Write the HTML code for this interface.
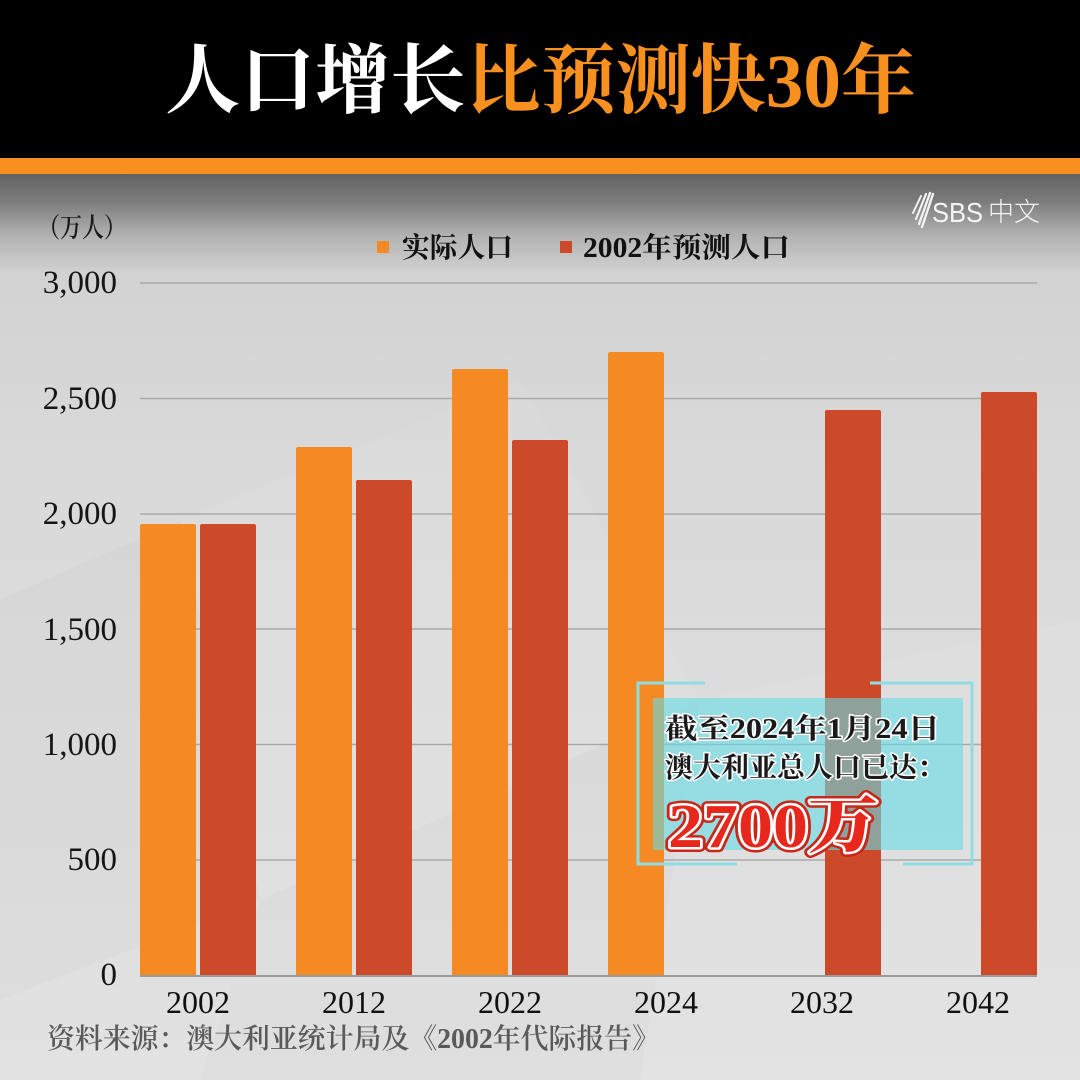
<!DOCTYPE html>
<html>
<head>
<meta charset="utf-8">
<style>
html,body{margin:0;padding:0;background:#000;}
svg{display:block;}
</style>
</head>
<body>
<svg width="1080" height="1080" viewBox="0 0 1080 1080" xmlns="http://www.w3.org/2000/svg">
  <defs>
    <linearGradient id="bg" x1="0" y1="174" x2="0" y2="1080" gradientUnits="userSpaceOnUse">
      <stop offset="0" stop-color="#626262"/>
      <stop offset="0.03" stop-color="#7c7c7c"/>
      <stop offset="0.07" stop-color="#b4b4b4"/>
      <stop offset="0.11" stop-color="#d2d2d2"/>
      <stop offset="0.3" stop-color="#d9d9d9"/>
      <stop offset="0.7" stop-color="#dedede"/>
      <stop offset="1" stop-color="#e2e2e2"/>
    </linearGradient>
  </defs>

  <!-- header -->
  <rect x="0" y="0" width="1080" height="158" fill="#000"/>
  <rect x="0" y="158" width="1080" height="16" fill="#f7901e"/>
  <text x="165" y="107" font-family="'Liberation Serif','Noto Serif CJK SC',serif" font-size="76" font-weight="700" textLength="751" lengthAdjust="spacingAndGlyphs"><tspan fill="#ffffff">人口增长</tspan><tspan fill="#f7901e">比预测快30年</tspan></text>

  <!-- body background -->
  <rect x="0" y="174" width="1080" height="906" fill="url(#bg)"/>
  <g>
    <polygon points="180,520 520,380 700,700 260,900" fill="#ffffff" opacity="0.06"/>
    <polygon points="0,600 180,520 260,900 0,1000" fill="#000000" opacity="0.015"/>
    <polygon points="700,700 1080,620 1080,1080 640,1080" fill="#ffffff" opacity="0.06"/>
    <polygon points="260,900 700,700 640,1080 200,1080" fill="#000000" opacity="0.012"/>
  </g>

  <!-- SBS logo -->
  <g stroke="#f2f2f2" stroke-linecap="round" fill="none">
    <line x1="913" y1="213" x2="921" y2="196" stroke-width="2"/>
    <line x1="916" y1="219" x2="926" y2="194" stroke-width="2.2"/>
    <line x1="919" y1="224" x2="930" y2="193" stroke-width="2.4"/>
    <line x1="922" y1="227" x2="933" y2="194" stroke-width="2.4"/>
  </g>
  <text x="932" y="222" font-family="'Liberation Sans',sans-serif" font-size="28" fill="#f4f4f4" textLength="51" lengthAdjust="spacingAndGlyphs">SBS</text>
  <text x="988" y="221" font-family="'Liberation Sans','Noto Sans CJK SC',sans-serif" font-size="26" font-weight="300" fill="#f4f4f4" textLength="52" lengthAdjust="spacingAndGlyphs">中文</text>

  <!-- unit label -->
  <text x="38" y="237" font-family="'Liberation Serif','Noto Serif CJK SC',serif" font-size="27" font-weight="600" fill="#1a1a1a" textLength="88" lengthAdjust="spacingAndGlyphs">（万人）</text>

  <!-- legend -->
  <rect x="377" y="241" width="12" height="12" fill="#f58a24"/>
  <text x="402" y="257" font-family="'Liberation Serif','Noto Serif CJK SC',serif" font-size="28" font-weight="700" fill="#111" textLength="111" lengthAdjust="spacingAndGlyphs">实际人口</text>
  <rect x="560" y="241" width="12" height="12" fill="#cc4a29"/>
  <text x="583" y="257" font-family="'Liberation Serif','Noto Serif CJK SC',serif" font-size="28" font-weight="700" fill="#111" textLength="207" lengthAdjust="spacingAndGlyphs">2002年预测人口</text>

  <!-- gridlines -->
  <g stroke="#a9a9a9" stroke-width="1.5">
    <line x1="140" y1="283" x2="1037" y2="283"/>
    <line x1="140" y1="398.5" x2="1037" y2="398.5"/>
    <line x1="140" y1="514" x2="1037" y2="514"/>
    <line x1="140" y1="629" x2="1037" y2="629"/>
    <line x1="140" y1="744.5" x2="1037" y2="744.5"/>
    <line x1="140" y1="860" x2="1037" y2="860"/>
  </g>

  <!-- y labels -->
  <g font-family="'Liberation Serif',serif" font-size="33" fill="#151515" text-anchor="end">
    <text x="117" y="293">3,000</text>
    <text x="117" y="409">2,500</text>
    <text x="117" y="524">2,000</text>
    <text x="117" y="640">1,500</text>
    <text x="117" y="755">1,000</text>
    <text x="117" y="870">500</text>
    <text x="117" y="985">0</text>
  </g>

  <!-- bars -->
  <g fill="#f58a24">
    <rect x="140" y="524" width="56" height="453" rx="2"/>
    <rect x="296" y="447" width="56" height="530" rx="2"/>
    <rect x="452" y="369" width="56" height="608" rx="2"/>
    <rect x="608" y="352" width="56" height="625" rx="2"/>
  </g>
  <g fill="#cc4a29">
    <rect x="200" y="524" width="56" height="453" rx="2"/>
    <rect x="356" y="480" width="56" height="497" rx="2"/>
    <rect x="512" y="440" width="56" height="537" rx="2"/>
    <rect x="825" y="410" width="56" height="567" rx="2"/>
    <rect x="981" y="392" width="56" height="585" rx="2"/>
  </g>

  <!-- axis -->
  <line x1="140" y1="976" x2="1037" y2="976" stroke="#9a9a9a" stroke-width="2"/>

  <!-- x labels -->
  <g font-family="'Liberation Serif',serif" font-size="32" fill="#111" text-anchor="middle">
    <text x="198" y="1013">2002</text>
    <text x="354" y="1013">2012</text>
    <text x="510" y="1013">2022</text>
    <text x="666" y="1013">2024</text>
    <text x="822" y="1013">2032</text>
    <text x="978" y="1013">2042</text>
  </g>

  <!-- source -->
  <text x="47" y="1048" font-family="'Liberation Serif','Noto Serif CJK SC',serif" font-size="28" font-weight="600" fill="#5a5a5a" textLength="613" lengthAdjust="spacingAndGlyphs">资料来源：澳大利亚统计局及《2002年代际报告》</text>

  <!-- annotation box -->
  <rect x="653" y="698" width="310" height="152" fill="#64dce6" opacity="0.6"/>
  <g stroke="#8edde3" stroke-width="3" fill="none">
    <polyline points="705,683 638,683 638,864 737,864"/>
    <polyline points="870,683 972,683 972,864 903,864"/>
  </g>
  <g font-family="'Liberation Serif','Noto Serif CJK SC',serif" font-weight="700" fill="#1a1a1a" stroke="#ffffff" stroke-width="3" paint-order="stroke" stroke-linejoin="round">
    <text x="665" y="738" font-size="28" textLength="275" lengthAdjust="spacingAndGlyphs">截至2024年1月24日</text>
    <text x="665" y="777" font-size="28" textLength="280" lengthAdjust="spacingAndGlyphs">澳大利亚总人口已达：</text>
  </g>
  <g font-family="'Liberation Serif','Noto Serif CJK SC',serif" font-weight="900" font-size="62" stroke-linejoin="round">
    <text x="668" y="847" textLength="210" lengthAdjust="spacingAndGlyphs" fill="#b82012" stroke="#c8281a" stroke-width="10">2700万</text>
    <text x="668" y="847" textLength="210" lengthAdjust="spacingAndGlyphs" fill="#e8281c" stroke="#ffffff" stroke-width="5" paint-order="stroke">2700万</text>
  </g>
</svg>
</body>
</html>
